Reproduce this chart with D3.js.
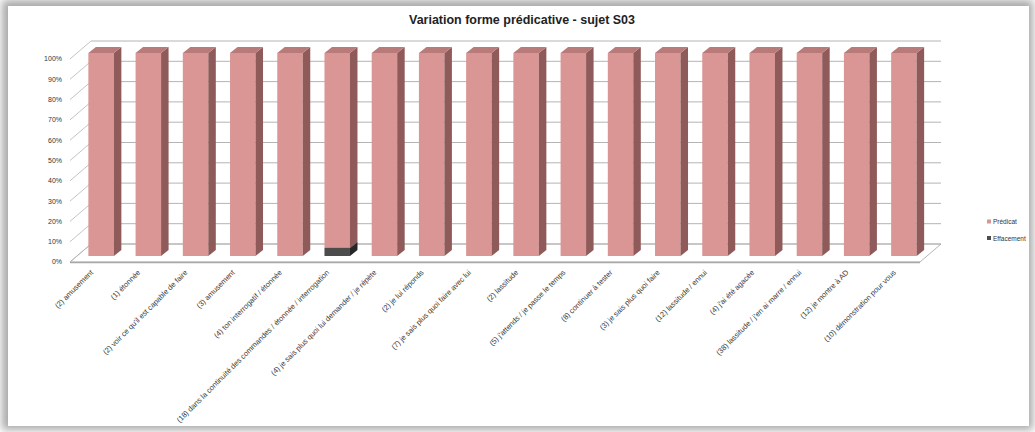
<!DOCTYPE html>
<html><head><meta charset="utf-8">
<script src="https://cdn.jsdelivr.net/npm/d3@7"></script>
<style>html,body{margin:0;padding:0;background:#fff;overflow:hidden}</style>
</head><body>
<svg id="c" width="1035" height="432"></svg>
<script>
const categories = [
  "(2) amusement",
  "(1) étonnée",
  "(2) voir ce qu'il est capable de faire",
  "(3) amusement",
  "(4) ton interrogatif / étonnée",
  "(18) dans la continuité des commandes / étonnée / interrogation",
  "(4) je sais plus quoi lui demander / je répète",
  "(2) je lui réponds",
  "(7) je sais plus quoi faire avec lui",
  "(2) lassitude",
  "(5) j'attends / je passe le temps",
  "(8) continuer à tester",
  "(3) je sais plus quoi faire",
  "(12) lassitude / ennui",
  "(4) j'ai été agacée",
  "(38) lassitude / j'en ai marre / ennui",
  "(12) je montre à AD",
  "(10) démonstration pour vous"
];
const effacement = [0,0,0,0,0,4,0,0,0,0,0,0,0,0,0,0,0,0];
const predicat   = [100,100,100,100,100,96,100,100,100,100,100,100,100,100,100,100,100,100];
const seriesNames = ["Prédicat","Effacement"];
const yTicks = [0,10,20,30,40,50,60,70,80,90,100];
const title = "Variation forme prédicative - sujet S03";

const svg = d3.select("#c");
const W = 1035, H = 432;

// frame with soft shadow
const defs = svg.append("defs");
const f = defs.append("filter").attr("id","sh").attr("x","-5%").attr("y","-5%").attr("width","110%").attr("height","110%");
f.append("feGaussianBlur").attr("stdDeviation",4);
svg.append("rect").attr("width",W).attr("height",H).attr("fill","#fff");
svg.append("rect").attr("x",2).attr("y",0).attr("width",W-4).attr("height",H-2).attr("fill","#a9a9a9").attr("filter","url(#sh)");
svg.append("rect").attr("x",8).attr("y",6).attr("width",1021).attr("height",420).attr("fill","#fff");

// 3D geometry
const D = {dx:21, dy:-18};           // full floor depth
const B = {dx:7.5, dy:-6};           // bar offset & bar depth (middle third)
const x = d3.scaleBand().domain(categories).range([70,920]).paddingInner(0.46).paddingOuter(0.23);
const y = d3.scaleLinear().domain([0,100]).range([262,59]);

const g = svg.append("g");

// back wall gridlines
g.selectAll(".grid").data(yTicks).join("line")
  .attr("x1",70+D.dx).attr("x2",920+D.dx)
  .attr("y1",d=>y(d)+D.dy).attr("y2",d=>y(d)+D.dy)
  .attr("stroke","#b4b4b4").attr("stroke-width",1);
// left wall diagonals
g.selectAll(".diag").data(yTicks).join("line")
  .attr("x1",70).attr("x2",70+D.dx)
  .attr("y1",d=>y(d)).attr("y2",d=>y(d)+D.dy)
  .attr("stroke","#c4c4c4").attr("stroke-width",1);
// floor
g.append("path")
  .attr("d",`M${70},${y(0)} L${920},${y(0)} L${920+D.dx},${y(0)+D.dy} L${70+D.dx},${y(0)+D.dy} Z`)
  .attr("fill","none").attr("stroke","#b4b4b4").attr("stroke-width",1);
g.append("line").attr("x1",70).attr("x2",920).attr("y1",y(0)+0.5).attr("y2",y(0)+0.5)
  .attr("stroke","#a8a8a8").attr("stroke-width",1.6);

// y tick labels
g.selectAll(".yl").data(yTicks).join("text")
  .attr("x",62).attr("y",d=>y(d)).attr("dy","0.35em")
  .attr("text-anchor","end")
  .attr("font-family","Liberation Sans, Arial, sans-serif").attr("font-size",7).attr("fill","#333")
  .text(d=>d+"%");

// bars
const colors = {
  "Prédicat":   {front:"#d99694", side:"#8f5b5a", top:"#b97b79"},
  "Effacement": {front:"#4c4c4c", side:"#262626", top:"#393939"}
};
const stacks = categories.map((c,i)=>{
  const segs = [];
  let base = 0;
  [["Effacement",effacement[i]],["Prédicat",predicat[i]]].forEach(([n,v])=>{
    if (v>0) { segs.push({cat:c, name:n, y0:base, y1:base+v}); base += v; }
  });
  return segs;
});
const bw = x.bandwidth();
stacks.forEach(segs=>{
  segs.forEach(s=>{
    const x0 = x(s.cat)+B.dx, x1 = x0+bw;
    const yt = y(s.y1)+B.dy, yb = y(s.y0)+B.dy;
    const col = colors[s.name];
    const bg = g.append("g");
    bg.append("rect").attr("x",x0).attr("y",yt).attr("width",bw).attr("height",yb-yt).attr("fill",col.front);
    bg.append("path").attr("d",`M${x1},${yt} L${x1+B.dx},${yt+B.dy} L${x1+B.dx},${yb+B.dy} L${x1},${yb} Z`).attr("fill",col.side);
    bg.append("path").attr("d",`M${x0},${yt} L${x0+B.dx},${yt+B.dy} L${x1+B.dx},${yt+B.dy} L${x1},${yt} Z`).attr("fill",col.top);
  });
});

// x labels
g.selectAll(".xl").data(categories).join("text")
  .attr("transform",d=>`translate(${x(d)+bw/2},${273}) rotate(-45)`)
  .attr("text-anchor","end")
  .attr("font-family","Liberation Sans, Arial, sans-serif").attr("font-size",7.5).attr("fill","#3a3a3a")
  .text(d=>d);

// title
svg.append("text").attr("x",522).attr("y",24).attr("text-anchor","middle")
  .attr("font-family","Liberation Sans, Arial, sans-serif")
  .attr("font-weight","bold").attr("font-size",12).attr("fill","#222")
  .attr("textLength",226).attr("lengthAdjust","spacingAndGlyphs")
  .text(title);

// legend
const lg = svg.append("g").attr("transform","translate(987,222)");
seriesNames.forEach((n,i)=>{
  lg.append("rect").attr("x",0).attr("y",i*16.5-2.5).attr("width",4).attr("height",4).attr("fill",colors[n].front);
  lg.append("text").attr("x",6).attr("y",i*16.5).attr("dy","0.35em")
    .attr("font-family","Liberation Sans, Arial, sans-serif").attr("font-size",6.5).attr("fill","#333").text(n);
});
</script>
</body></html>
